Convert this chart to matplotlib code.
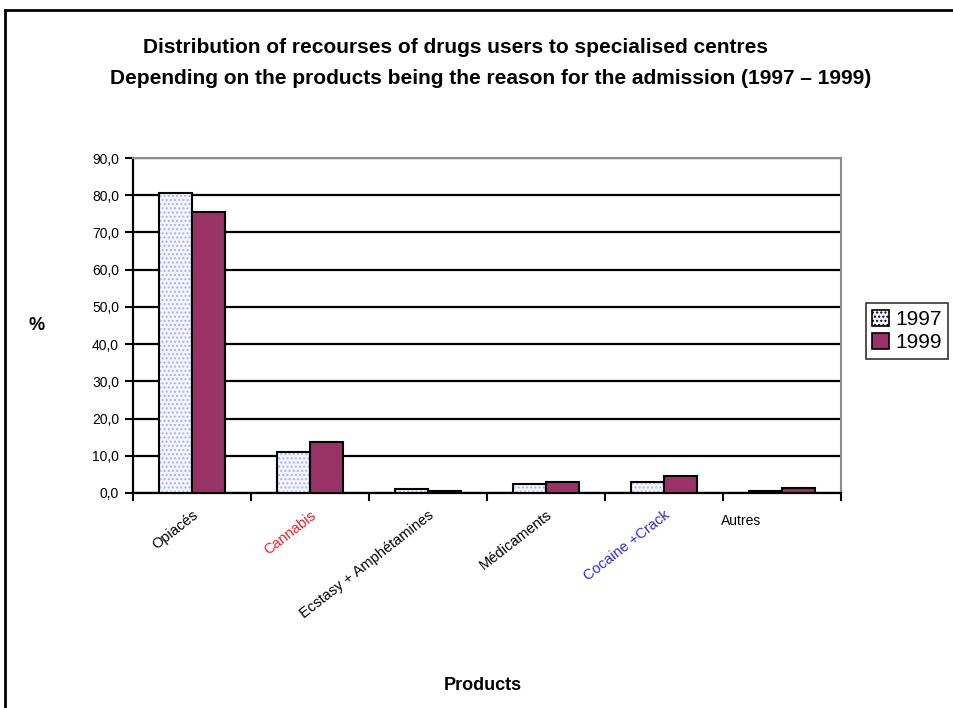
import numpy as np
import matplotlib
matplotlib.use("Agg")
import matplotlib.pyplot as plt
from matplotlib.lines import Line2D

plt.rcParams['font.family'] = ['Liberation Sans', 'DejaVu Sans']

# admission share per product (%)
products = ["Opiacés", "Cannabis", "Ecstasy + Amphétamines", "Médicaments", "Cocaine +Crack", "Autres"]
label_colors = ["black", "#e8202a", "black", "black", "#2a2ad8", "black"]
share_1997 = [80.5, 11.0, 1.2, 2.4, 3.0, 0.6]
share_1999 = [75.6, 13.7, 0.6, 3.0, 4.6, 1.3]
years = ["1997", "1999"]
y_ticks = [0, 10, 20, 30, 40, 50, 60, 70, 80, 90]

fig = plt.figure(figsize=(9.54, 7.08), dpi=100)
ax = fig.add_axes([0.1394, 0.3037, 0.7422, 0.4731])

x = np.arange(len(products))
w = 0.28

# 1997: dotted light fill, drawn as hatch then outlined
ax.bar(x - w / 2, share_1997, w, color="#f4f5ff", edgecolor="#a8b2f2",
       hatch="....", linewidth=0, zorder=3)
ax.bar(x - w / 2, share_1997, w, fill=False, edgecolor="black",
       linewidth=1.5, zorder=4)
ax.bar(x + w / 2, share_1999, w, color="#993366", edgecolor="black",
       linewidth=1.5, zorder=4)

ax.set_xlim(-0.5, len(products) - 0.5)
ax.set_ylim(0, 90)
ax.set_yticks(y_ticks)
ax.set_yticklabels([f"{v:.1f}".replace(".", ",") for v in y_ticks], fontsize=10)
ax.yaxis.grid(True, color="black", linewidth=1.6, zorder=1)
ax.set_axisbelow(True)
ax.tick_params(axis="y", direction="out", length=6, width=1.5, pad=4)

# group boundary ticks on the x axis
ax.set_xticks(np.arange(-0.5, len(products) + 0.5, 1.0))
ax.set_xticklabels([])
ax.tick_params(axis="x", direction="out", length=6, width=1.5)

for s in ["left", "bottom"]:
    ax.spines[s].set_linewidth(1.6)
    ax.spines[s].set_color("black")
for s in ["top", "right"]:
    ax.spines[s].set_linewidth(1.5)
    ax.spines[s].set_color("#8c8c8c")

# category names, slanted except the last one
for i, (name, c) in enumerate(zip(products, label_colors)):
    if name == "Autres":
        ax.text(i - 0.35, -7.5, name, fontsize=10, ha="center", va="center",
                color=c)
    else:
        ax.text(i, -4, name, fontsize=10.5, ha="right", va="top", rotation=38,
                rotation_mode="anchor", color=c)

ax.set_ylabel("%", fontsize=13, fontweight="bold", rotation=0,
              labelpad=40, va="center")
fig.text(0.506, 0.032, "Products", fontsize=13, fontweight="bold",
         ha="center", va="center")

fig.text(0.15, 0.933, "Distribution of recourses of drugs users to specialised centres",
         fontsize=15, fontweight="bold", ha="left", va="center")
fig.text(0.1155, 0.889, "Depending on the products being the reason for the admission (1997 \u2013 1999)",
         fontsize=15, fontweight="bold", ha="left", va="center")

handles = [
    plt.Rectangle((0, 0), 1, 1, facecolor="#f4f5ff", edgecolor="black",
                  hatch="....", linewidth=1.2),
    plt.Rectangle((0, 0), 1, 1, facecolor="#993366", edgecolor="black",
                  linewidth=1.2),
]
leg = fig.legend(handles, years, loc="center left", bbox_to_anchor=(0.908, 0.5325),
                 fontsize=15, frameon=True, fancybox=False, edgecolor="black",
                 handlelength=0.8, handleheight=0.8, handletextpad=0.3,
                 borderpad=0.3, labelspacing=0.2, borderaxespad=0)
leg.get_frame().set_linewidth(1.2)

# page border along the top and left
fig.add_artist(Line2D([0.005, 1.0], [0.986, 0.986], color="black", linewidth=2,
                      transform=fig.transFigure))
fig.add_artist(Line2D([0.005, 0.005], [0.0, 0.986], color="black", linewidth=2,
                      transform=fig.transFigure))

fig.savefig("out.png", dpi=100)
